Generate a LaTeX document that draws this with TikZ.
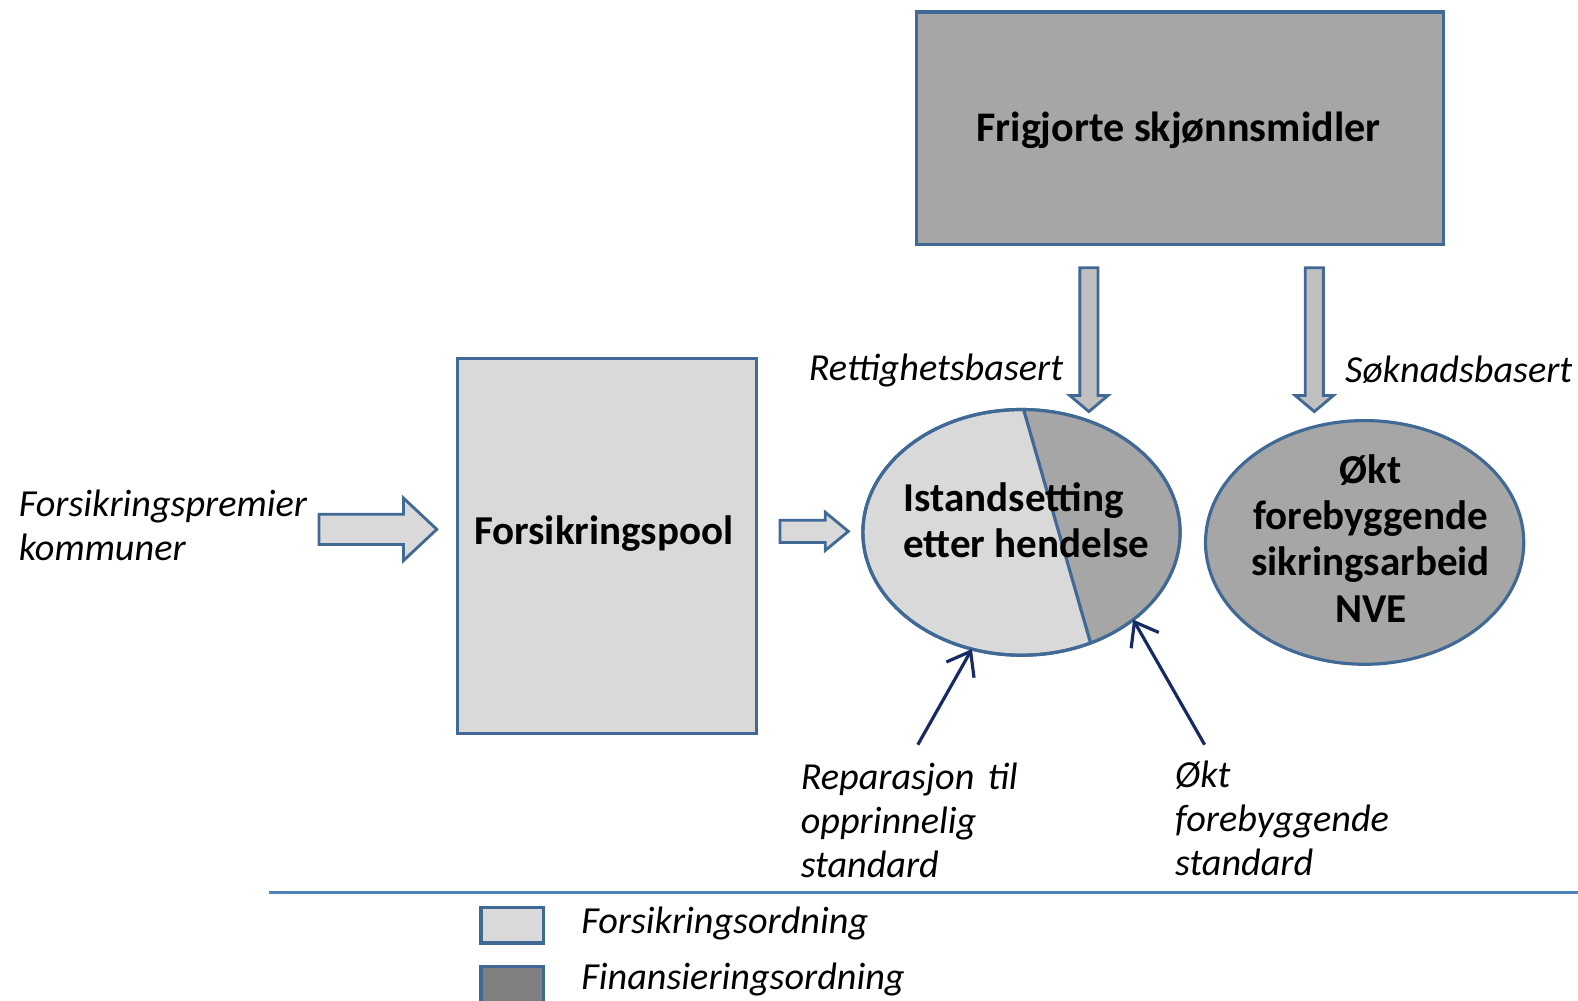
\documentclass[tikz,border=0pt]{standalone}
\usepackage{fontspec}
\setmainfont{Carlito}
\usetikzlibrary{shapes.geometric,arrows.meta}
\definecolor{rand}{RGB}{65,105,150}
\definecolor{linjeblaa}{RGB}{79,129,189}
\definecolor{lysgraa}{RGB}{217,217,217}
\definecolor{morkgraa}{RGB}{166,166,166}
\definecolor{pilgraa}{RGB}{192,192,192}
\definecolor{legendgraa}{RGB}{128,128,128}
\definecolor{marine}{RGB}{22,42,100}

\begin{document}
\begin{tikzpicture}[x=0.01cm, y=-0.01cm,
    boks/.style={draw=rand, line width=0.9pt, inner sep=0, outer sep=0},
    tittel/.style={font=\bfseries\fontsize{11.6}{13.1}\selectfont, inner sep=0},
    tekst/.style={font=\itshape\fontsize{10.8}{12.5}\selectfont, align=left, anchor=west, inner sep=0},
    blokkpil/.style={draw=rand, line width=0.8pt, line join=miter},
    tynnpil/.style={draw=marine, line width=0.9pt, -{Straight Barb[length=6pt, width=9pt, line width=0.9pt]}}
  ]
  \useasboundingbox (0,0) rectangle (1568,994);

  % bokser
  \node[boks, fill=morkgraa, minimum width=5.23cm, minimum height=2.31cm] (fond) at (1172.5,127.5) {};
  \node[tittel, font=\bfseries\fontsize{11.9}{13.1}\selectfont] (fondtekst) at (1171,129) {Frigjorte skjønnsmidler};
  \node[boks, fill=lysgraa, minimum width=2.97cm, minimum height=3.73cm] (pool) at (603.5,542.5) {};
  \node[tittel] (pooltekst) at (600,530) {Forsikringspool};

  % istandsetting, delt i to
  \node[boks, ellipse, fill=lysgraa, minimum width=3.15cm, minimum height=2.44cm] (ist) at (1015,529) {};
  \begin{scope}
    \clip (ist.center) ellipse [x radius=1.575cm, y radius=1.22cm];
    \fill[morkgraa] (ist.89.5) -- (ist.-58) -- (1200,700) -- (1200,380) -- cycle;
  \end{scope}
  \draw[rand, line width=0.9pt] (ist.89.5) -- (ist.-58);
  \draw[rand, line width=0.9pt] (ist.center) ellipse [x radius=1.575cm, y radius=1.22cm];
  \node[tittel, align=left] (isttekst) at (1020,517) {Istandsetting\\etter hendelse};

  \node[boks, ellipse, fill=morkgraa, minimum width=3.16cm, minimum height=2.42cm] (nve) at (1356,539) {};
  \node[tittel, align=center] (nvetekst) at (1362,535) {Økt\\forebyggende\\sikringsarbeid\\NVE};

  % blokkpiler
  \draw[blokkpil, fill=lysgraa] (317,511) -- (401,511) -- (401,495) -- (434,526) -- (401,557) -- (401,541) -- (317,541) -- cycle;
  \draw[blokkpil, fill=lysgraa] (775,517) -- (820,517) -- (820,509) -- (843,528) -- (820,547) -- (820,539) -- (775,539) -- cycle;
  \foreach \xm in {1082,1306}
    \draw[blokkpil, fill=pilgraa] (\xm-9,266) -- (\xm+9,266) -- (\xm+9,393) -- (\xm+19,393) -- (\xm,409) -- (\xm-19,393) -- (\xm-9,393) -- cycle;

  % tekster
  \node[tekst] (premier) at (18,522) {Forsikringspremier\\kommuner};
  \node[tekst] (rett) at (803,368) {Rettighetsbasert};
  \node[tekst] (sok) at (1336,367) {Søknadsbasert};
  \node[tekst] (rep) at (795,815) {Reparasjon\hspace{0.12em} til\\opprinnelig\\standard};
  \node[tekst] (okt) at (1167,813) {Økt\\forebyggende\\standard};

  % tynne piler
  \coordinate (repstart) at (912,740);
  \coordinate (oktstart) at (1197,740);
  \draw[tynnpil] (repstart) -- (ist.-113);
  \draw[tynnpil] (oktstart) -- (ist.-38);

  % tegnforklaring
  \draw[linjeblaa, line width=1pt] (267,887) -- (1568,887);
  \node[boks, fill=lysgraa, minimum width=0.62cm, minimum height=0.35cm] (lys) at (509,919.5) {};
  \node[boks, fill=legendgraa, minimum width=0.62cm, minimum height=0.40cm] (mork) at (509,980) {};
  \node[tekst] (lystekst) at (577,918) {Forsikringsordning};
  \node[tekst] (morktekst) at (577,973) {Finansieringsordning};
\end{tikzpicture}
\end{document}
